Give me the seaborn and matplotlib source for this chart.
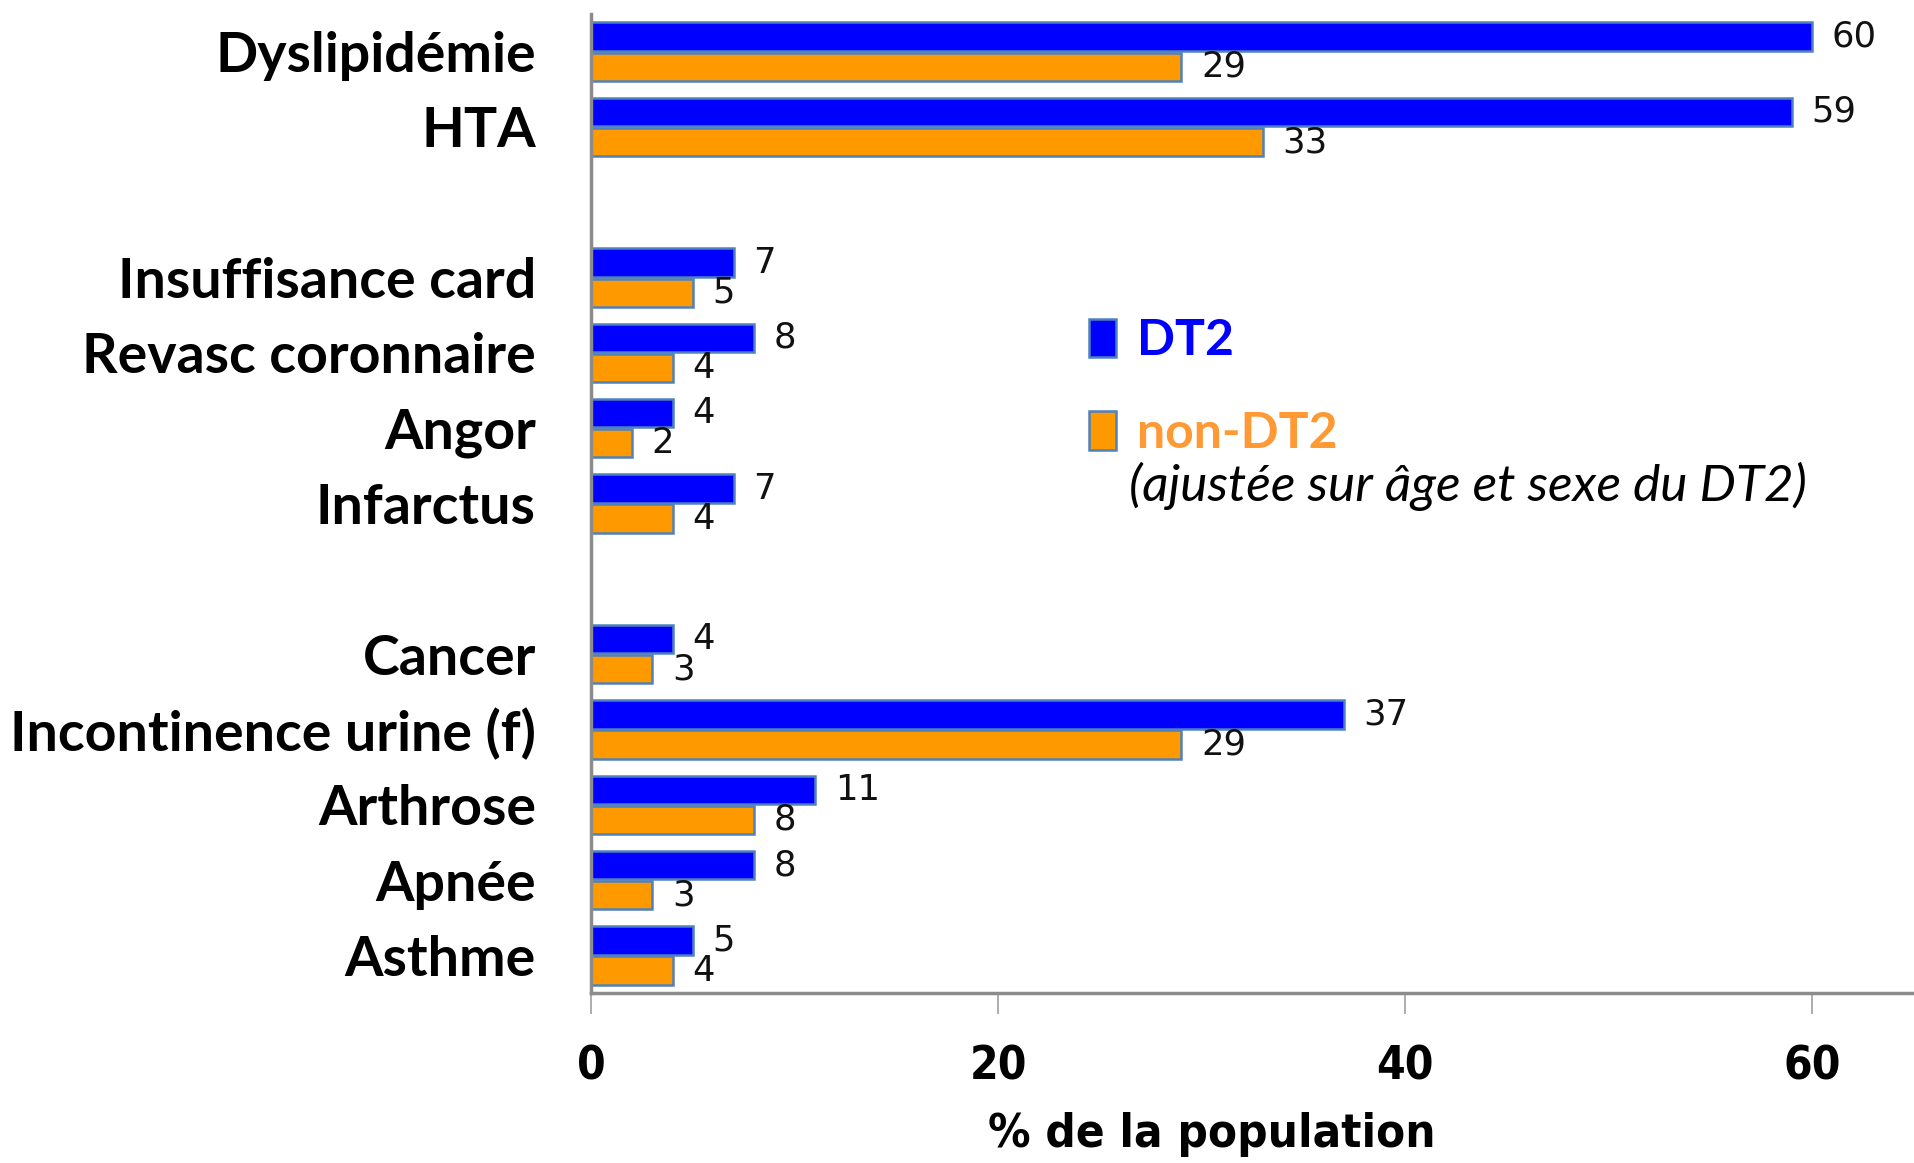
import numpy as np
import pandas as pd
import seaborn as sns
import matplotlib.pyplot as plt
from matplotlib.patches import Patch

# Données (% de la population) ; lignes vides = séparateurs de groupes
categories = ['Dyslipidémie', 'HTA', ' ',
              'Insuffisance card', 'Revasc coronnaire', 'Angor', 'Infarctus', '  ',
              'Cancer', 'Incontinence urine (f)', 'Arthrose', 'Apnée', 'Asthme']
dt2 = [60, 59, np.nan, 7, 8, 4, 7, np.nan, 4, 37, 11, 8, 5]
non_dt2 = [29, 33, np.nan, 5, 4, 2, 4, np.nan, 3, 29, 8, 3, 4]
groupes = ['DT2', 'non-DT2']
couleurs = ['#0000FF', '#FF9900']

df = pd.DataFrame({
    'categorie': categories * 2,
    'valeur': dt2 + non_dt2,
    'groupe': [groupes[0]] * len(categories) + [groupes[1]] * len(categories),
})

sns.set_style('white')
plt.rcParams['font.family'] = ['Lato', 'DejaVu Sans']
plt.rcParams['text.color'] = 'black'

fig = plt.figure(figsize=(19.14, 11.63), dpi=100)
ax = fig.add_axes([0.309, 0.146, 0.691, 0.842])

sns.barplot(data=df, y='categorie', x='valeur', hue='groupe', order=categories,
            hue_order=groupes, palette=couleurs, saturation=1, orient='h',
            width=0.8, gap=0.06, edgecolor='#4F81BD', linewidth=1.8,
            errorbar=None, legend=False, ax=ax)

for cont in ax.containers:
    labels = ['' if np.isnan(v) else f'{v:.0f}' for v in cont.datavalues]
    ax.bar_label(cont, labels=labels, padding=14, fontsize=25.5, color='#111111',
                 family='DejaVu Sans')

ax.set_xlim(0, 65)
ax.set_ylim(12.5, -0.5)
ax.set_xticks([0, 20, 40, 60])
ax.set_xlabel('% de la population', fontsize=34, fontweight='bold',
              family='DejaVu Sans', fontstretch='condensed', color='black')
ax.xaxis.set_label_coords(0.469, -0.121)
ax.set_ylabel('')
for lab in ax.get_xticklabels():
    lab.set_family('DejaVu Sans')
    lab.set_fontstretch('condensed')
    lab.set_fontweight('bold')
    lab.set_fontsize(33)
    lab.set_color('black')
for lab in ax.get_yticklabels():
    lab.set_fontweight('bold')
    lab.set_fontsize(40)
    lab.set_color('black')
ax.tick_params(axis='x', length=15, width=1.2, color='#A0A0A0', direction='out', pad=22)
ax.tick_params(axis='y', length=0, pad=40)
ax.xaxis.set_ticks_position('bottom')

sns.despine(ax=ax, top=True, right=True)
for s in ['left', 'bottom']:
    ax.spines[s].set_color('#8C8C8C')
    ax.spines[s].set_linewidth(2.5)

handles = [Patch(facecolor=c, edgecolor='#4F81BD', linewidth=1.8) for c in couleurs]
leg = ax.legend(handles, groupes, loc='center left', bbox_to_anchor=(0.361, 0.619),
                frameon=False, fontsize=36, handlelength=0.55, handleheight=0.8,
                handletextpad=0.42, labelspacing=0.95, borderaxespad=0)
for txt, c in zip(leg.get_texts(), ['#0000FF', '#FF9933']):
    txt.set_color(c)
    txt.set_fontweight('bold')

fig.text(0.590, 0.582, '(ajustée sur âge et sexe du DT2)', fontsize=37,
         style='italic', va='center', ha='left')

fig.savefig('out.png', dpi=100)
